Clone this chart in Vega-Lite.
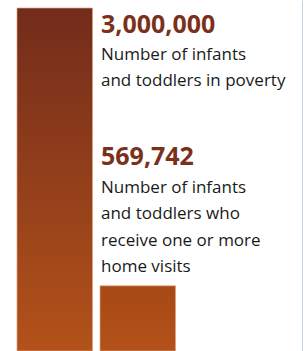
{
  "$schema": "https://vega.github.io/schema/vega-lite/v6.json",
  "width": 303,
  "height": 351,
  "autosize": {"type": "none"},
  "padding": 0,
  "background": "#ffffff",
  "config": {"view": {"stroke": null}},
  "data": {
    "values": [
      {"cat": "poverty", "value": 3000000, "caption": ["Number of infants", "and toddlers in poverty"]},
      {"cat": "visits", "value": 569742, "caption": ["Number of infants", "and toddlers who", "receive one or more", "home visits"]}
    ]
  },
  "encoding": {
    "y": {
      "field": "value",
      "type": "quantitative",
      "scale": {"domain": [0, 3070000], "nice": false, "zero": true},
      "axis": {"orient": "right", "labels": false, "ticks": false, "grid": false, "title": null, "domainColor": "#86aecb", "domainWidth": 2}
    }
  },
  "layer": [
    {
      "mark": {"type": "bar", "strokeWidth": 1, "stroke": "#e2a27e", "strokeOpacity": 0.7},
      "encoding": {
        "x": {"field": "cat", "type": "nominal", "sort": null, "axis": null,
              "scale": {"domain": ["poverty", "visits"], "paddingInner": 0.09, "paddingOuter": 0.87, "align": 0.1176}},
        "color": {
          "condition": {
            "test": "datum.cat === 'visits'",
            "value": {"gradient": "linear", "x1": 0, "y1": 0, "x2": 0, "y2": 1,
                      "stops": [{"offset": 0, "color": "#a74916"}, {"offset": 1, "color": "#b3521a"}]}
          },
          "value": {"gradient": "linear", "x1": 0, "y1": 0, "x2": 0, "y2": 1,
                    "stops": [{"offset": 0, "color": "#722c1b"}, {"offset": 1, "color": "#b3521a"}]}
        }
      }
    },
    {
      "transform": [{"filter": "datum.cat === 'poverty'"}],
      "mark": {"type": "text", "align": "left", "baseline": "alphabetic", "dy": 25, "dx": 1, "font": "Open Sans", "fontWeight": "bold", "fontSize": 25, "color": "#7a301b"},
      "encoding": {
        "x": {"datum": "visits", "type": "nominal", "bandPosition": 0},
        "text": {"field": "value", "type": "quantitative", "format": ","}
      }
    },
    {
      "transform": [{"filter": "datum.cat === 'poverty'"}],
      "mark": {"type": "text", "align": "left", "baseline": "alphabetic", "dy": 52, "dx": 1, "font": "Open Sans", "fontSize": 17, "lineHeight": 26, "color": "#1a1a1a"},
      "encoding": {
        "x": {"datum": "visits", "type": "nominal", "bandPosition": 0},
        "text": {"field": "caption"}
      }
    },
    {
      "transform": [{"filter": "datum.cat === 'visits'"}],
      "mark": {"type": "text", "align": "left", "baseline": "alphabetic", "dy": -121, "dx": 1, "font": "Open Sans", "fontWeight": "bold", "fontSize": 25, "color": "#7a301b"},
      "encoding": {
        "x": {"datum": "visits", "type": "nominal", "bandPosition": 0},
        "text": {"field": "value", "type": "quantitative", "format": ","}
      }
    },
    {
      "transform": [{"filter": "datum.cat === 'visits'"}],
      "mark": {"type": "text", "align": "left", "baseline": "alphabetic", "dy": -93, "dx": 1, "font": "Open Sans", "fontSize": 17, "lineHeight": 26.5, "color": "#1a1a1a"},
      "encoding": {
        "x": {"datum": "visits", "type": "nominal", "bandPosition": 0},
        "text": {"field": "caption"}
      }
    }
  ]
}
